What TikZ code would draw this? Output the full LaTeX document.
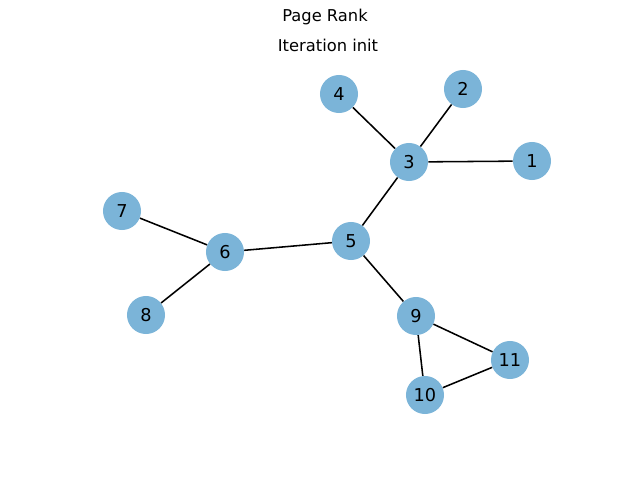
\documentclass[tikz,border=0pt]{standalone}
\usepackage{fontspec}
\setmainfont{DejaVu Sans}
\tikzset{>=stealth}
\tikzset{vertex/.style={circle,fill=rankblue,minimum size=0.95cm,inner sep=0pt,font=\fontsize{12.6}{14}\selectfont}}
\tikzset{link/.style={line width=1.1pt,black}}
\definecolor{rankblue}{RGB}{123,180,216}

\begin{document}
\begin{tikzpicture}[x=0.025cm,y=-0.025cm]
  \useasboundingbox (0,0) rectangle (640,480);

  \node[font=\fontsize{11.6}{14}\selectfont] (title) at (325,17) {Page Rank};
  \node[font=\fontsize{11.6}{14}\selectfont] (iter) at (328,45) {Iteration init};

  \node[vertex] (1) at (532,161) {1};
  \node[vertex] (2) at (463,89) {2};
  \node[vertex] (3) at (409,162) {3};
  \node[vertex] (4) at (339,94) {4};
  \node[vertex] (5) at (351,241) {5};
  \node[vertex] (6) at (225,252) {6};
  \node[vertex] (7) at (122,211) {7};
  \node[vertex] (8) at (146,315) {8};
  \node[vertex] (9) at (416,316) {9};
  \node[vertex] (10) at (425,395) {10};
  \node[vertex] (11) at (510,360) {11};

  \draw[link] (3) -- (1);
  \draw[link] (3) -- (2);
  \draw[link] (3) -- (4);
  \draw[link] (3) -- (5);
  \draw[link] (5) -- (6);
  \draw[link] (5) -- (9);
  \draw[link] (6) -- (7);
  \draw[link] (6) -- (8);
  \draw[link] (9) -- (10);
  \draw[link] (9) -- (11);
  \draw[link] (10) -- (11);
\end{tikzpicture}
\end{document}
